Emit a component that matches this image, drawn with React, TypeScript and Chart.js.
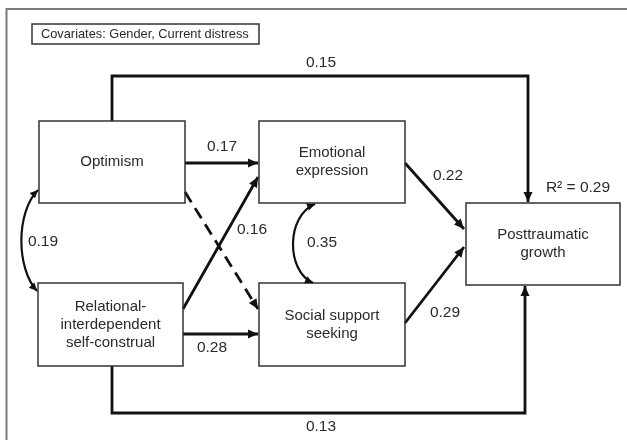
import React, { useEffect, useRef } from "react";
import { Chart, registerables } from "chart.js";

Chart.register(...registerables);

// ---- data ----
const nodeNames = [
  "Optimism",
  "Relational-\ninterdependent\nself-construal",
  "Emotional\nexpression",
  "Social support\nseeking",
  "Posttraumatic\ngrowth",
];
const pathNames = [
  "Optimism → Emotional expression",
  "Relational → Emotional expression",
  "Relational → Social support seeking",
  "Emotional expression → Posttraumatic growth",
  "Social support seeking → Posttraumatic growth",
  "Optimism → Posttraumatic growth",
  "Relational → Posttraumatic growth",
  "Optimism → Social support seeking",
];
const pathCoefficients: (number | null)[] = [0.17, 0.16, 0.28, 0.22, 0.29, 0.15, 0.13, null];
const pathSignificant = [true, true, true, true, true, true, true, false];
const covarianceNames = ["Optimism ↔ Relational", "Emotional ↔ Social support"];
const covarianceCoefficients = [0.19, 0.35];
const rSquared = 0.29;
const covariatesText = "Covariates: Gender, Current distress";

// ---- layout (diagram geometry, in scale units) ----
const boxes = [
  { x0: 39, y0: 121, x1: 185, y1: 203 },
  { x0: 38, y0: 283, x1: 183, y1: 366 },
  { x0: 259, y0: 121, x1: 405, y1: 203 },
  { x0: 259, y0: 283, x1: 405, y1: 366 },
  { x0: 466, y0: 203, x1: 620, y1: 285 },
];
const pathRoutes = [
  [[185, 163], [258, 163]],
  [[183, 309], [258, 177]],
  [[183, 334], [258, 334]],
  [[405, 163], [464, 229]],
  [[405, 323], [464, 247]],
  [[112, 121], [112, 76], [528, 76], [528, 202]],
  [[112, 366], [112, 413], [525, 413], [525, 286]],
  [[185, 192], [258, 309]],
];
const pathLabelPos = [
  [222, 147], [252, 230], [212, 348], [448, 176], [445, 313], [321, 63], [321, 427], [0, 0],
];
const covRoutes = [
  [[38, 190], [16, 212], [16, 268], [37, 291]],
  [[315, 204], [286, 216], [286, 271], [313, 283]],
];
const covLabelPos = [[43, 242], [322, 243]];
const rSquaredPos = [578, 188];
const covBox = { x0: 32, y0: 24, x1: 259, y1: 44 };

const FONT = '"Liberation Sans", Arial, sans-serif';
const INK = "#111";
const TEXT = "#2a2a2a";

function arrowHead(ctx: CanvasRenderingContext2D, tx: number, ty: number, fx: number, fy: number, len = 10, half = 4.5) {
  const a = Math.atan2(ty - fy, tx - fx);
  ctx.save();
  ctx.translate(tx, ty);
  ctx.rotate(a);
  ctx.beginPath();
  ctx.moveTo(0, 0);
  ctx.lineTo(-len, -half);
  ctx.lineTo(-len, half);
  ctx.closePath();
  ctx.fillStyle = INK;
  ctx.fill();
  ctx.restore();
}

const diagramPlugin = {
  id: "diagram",
  afterDatasetsDraw(chart: any) {
    const ctx: CanvasRenderingContext2D = chart.ctx;
    const X = chart.scales.x;
    const Y = chart.scales.y;
    const px = (v: number) => X.getPixelForValue(v);
    const py = (v: number) => Y.getPixelForValue(v);

    ctx.save();
    // frame
    ctx.strokeStyle = "#7a7a7a";
    ctx.lineWidth = 2;
    ctx.beginPath();
    ctx.moveTo(px(6.5), py(440));
    ctx.lineTo(px(6.5), py(9));
    ctx.lineTo(px(627), py(9));
    ctx.stroke();

    // covariates box
    ctx.strokeStyle = "#333";
    ctx.lineWidth = 1.5;
    ctx.strokeRect(px(covBox.x0), py(covBox.y0), px(covBox.x1) - px(covBox.x0), py(covBox.y1) - py(covBox.y0));
    ctx.fillStyle = TEXT;
    ctx.font = `12.8px ${FONT}`;
    ctx.textAlign = "left";
    ctx.textBaseline = "middle";
    ctx.fillText(covariatesText, px(covBox.x0 + 9), py((covBox.y0 + covBox.y1) / 2 + 0.5));

    // node boxes
    boxes.forEach((b, i) => {
      ctx.strokeStyle = "#333";
      ctx.lineWidth = 1.5;
      ctx.strokeRect(px(b.x0), py(b.y0), px(b.x1) - px(b.x0), py(b.y1) - py(b.y0));
      const lines = nodeNames[i].split("\n");
      const cx = px((b.x0 + b.x1) / 2);
      const cy = py((b.y0 + b.y1) / 2);
      const lh = 18;
      ctx.fillStyle = TEXT;
      ctx.font = `15px ${FONT}`;
      ctx.textAlign = "center";
      ctx.textBaseline = "middle";
      lines.forEach((ln, k) => {
        ctx.fillText(ln, cx, cy + (k - (lines.length - 1) / 2) * lh);
      });
    });

    // arrowheads on paths
    pathRoutes.forEach((r) => {
      const t = r[r.length - 1];
      const f = r[r.length - 2];
      arrowHead(ctx, px(t[0]), py(t[1]), px(f[0]), py(f[1]));
    });

    // covariance curves
    covRoutes.forEach((c) => {
      ctx.strokeStyle = INK;
      ctx.lineWidth = 2.2;
      ctx.beginPath();
      ctx.moveTo(px(c[0][0]), py(c[0][1]));
      ctx.bezierCurveTo(px(c[1][0]), py(c[1][1]), px(c[2][0]), py(c[2][1]), px(c[3][0]), py(c[3][1]));
      ctx.stroke();
      arrowHead(ctx, px(c[0][0]), py(c[0][1]), px(c[1][0]), py(c[1][1]), 8, 3.8);
      arrowHead(ctx, px(c[3][0]), py(c[3][1]), px(c[2][0]), py(c[2][1]), 8, 3.8);
    });

    // coefficient labels
    ctx.fillStyle = TEXT;
    ctx.font = `15.5px ${FONT}`;
    ctx.textAlign = "center";
    ctx.textBaseline = "middle";
    pathCoefficients.forEach((v, i) => {
      if (v === null) return;
      ctx.fillText(v.toFixed(2), px(pathLabelPos[i][0]), py(pathLabelPos[i][1]));
    });
    covarianceCoefficients.forEach((v, i) => {
      ctx.fillText(v.toFixed(2), px(covLabelPos[i][0]), py(covLabelPos[i][1]));
    });
    ctx.fillText(`R\u00B2 = ${rSquared.toFixed(2)}`, px(rSquaredPos[0]), py(rSquaredPos[1]));
    ctx.restore();
  },
};

export default function App() {
  const ref = useRef<HTMLCanvasElement | null>(null);
  useEffect(() => {
    if (!ref.current) return;
    const datasets = pathRoutes.map((r, i) => ({
      label: pathNames[i],
      data: r.map(([x, y]) => ({ x, y })),
      showLine: true,
      borderColor: INK,
      borderWidth: 2.8,
      borderDash: pathSignificant[i] ? [] : [12, 7],
      pointRadius: 0,
      tension: 0,
      fill: false,
    }));
    const chart = new Chart(ref.current, {
      type: "scatter",
      data: { datasets },
      options: {
        animation: false,
        responsive: false,
        devicePixelRatio: 1,
        layout: { padding: 0 },
        plugins: { legend: { display: false }, tooltip: { enabled: false }, title: { display: false } },
        scales: {
          x: { type: "linear", min: 0, max: 627, display: false },
          y: { type: "linear", min: 0, max: 440, reverse: true, display: false },
        },
        events: [],
      },
      plugins: [diagramPlugin],
    });
    return () => chart.destroy();
  }, []);
  return (
    <div style={{ position: "fixed", left: 0, top: 0, width: 627, height: 440, background: "#fff" }}>
      <canvas ref={ref} width={627} height={440} />
    </div>
  );
}
